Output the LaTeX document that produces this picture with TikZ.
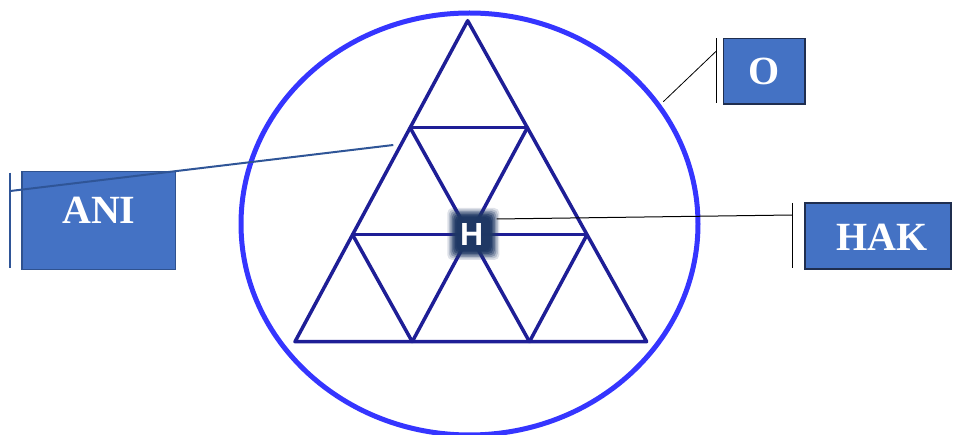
\documentclass[tikz,border=0pt]{standalone}
\usepackage{fontspec}
\usetikzlibrary{calc}
\setmainfont{Liberation Serif}
\newfontfamily\hfont{Liberation Sans}
\definecolor{ringcol}{HTML}{3535FF}
\definecolor{gridcol}{HTML}{1E1E96}
\definecolor{boxfill}{HTML}{4472C4}
\definecolor{boxline}{HTML}{2F528F}
\definecolor{boxdark}{HTML}{1F2E4F}
\definecolor{hcol}{HTML}{1F3864}
\definecolor{anicol}{HTML}{2F5597}
\tikzset{
  labelbox/.style={draw=#1, line width=1.5pt, fill=boxfill, inner sep=0pt},
  boxtext/.style={text=white, font=\fontsize{40}{40}\selectfont\bfseries},
  gridline/.style={draw=gridcol, line width=3.5pt, line join=round, line cap=round},
  thinlink/.style={draw=black, line width=0.8pt},
  barline/.style={draw=black, line width=1pt},
}
\begin{document}
\begin{tikzpicture}[x=1pt,y=-1pt]
\useasboundingbox (0,0) rectangle (954,435);
% ring
\draw[ringcol, line width=5pt] (469.5,224) ellipse [x radius=228.5, y radius=211];
% triangle grid
\coordinate (T) at (467.7,20.7);
\coordinate (BL) at (295,341.7);
\coordinate (BR) at (646.7,341.7);
\coordinate (L1) at ($(T)!1/3!(BL)$);
\coordinate (L2) at ($(T)!2/3!(BL)$);
\coordinate (R1) at ($(T)!1/3!(BR)$);
\coordinate (R2) at ($(T)!2/3!(BR)$);
\coordinate (B1) at ($(BL)!1/3!(BR)$);
\coordinate (B2) at ($(BL)!2/3!(BR)$);
\draw[gridline] (T) -- (BL) -- (BR) -- cycle;
\draw[gridline] (L1) -- (R1);
\draw[gridline] (L2) -- (R2);
\draw[gridline] (R1) -- (B1);
\draw[gridline] (R2) -- (B2);
\draw[gridline] (L1) -- (B2);
\draw[gridline] (L2) -- (B1);
% H marker (blurred square)
\foreach \s/\o in {26/0.15,24.5/0.2,23/0.3,21.5/0.4,20/0.55,18.5/0.75,17/0.95} {
  \fill[hcol, opacity=\o, rounded corners=5pt] (473.3-\s,234-\s) rectangle (473.3+\s,234+\s);
}
\node[text=white, font=\hfont\fontsize{32}{32}\selectfont\bfseries, inner sep=0pt] (H) at (471.7,234) {H};
% boxes
\node[labelbox=boxline, minimum width=153.7pt, minimum height=97.6pt,
      label={[boxtext, yshift=10.5pt]center:ANI}] (ani) at (98.8,220.5) {};
\node[labelbox=boxdark, minimum width=81.7pt, minimum height=65.7pt, boxtext] (O) at (764.2,71.2) {O};
\node[labelbox=boxdark, minimum width=146pt, minimum height=66pt] (hak) at (878,236) {};
\node[boxtext] at (881.7,237) {HAK};
% bars
\coordinate (aniBarTop) at (10.3,172.7);
\coordinate (aniBarBot) at (10.3,268);
\draw[anicol, line width=2pt] (aniBarTop) -- (aniBarBot);
\coordinate (oBarTop) at (716.7,38.3);
\coordinate (oBarBot) at (716.7,103.5);
\draw[barline] (oBarTop) -- (oBarBot);
\coordinate (hakBarTop) at (792.3,203);
\coordinate (hakBarBot) at (792.3,268);
\draw[barline] (hakBarTop) -- (hakBarBot);
% connectors
\coordinate (aniStart) at (10.3,191);
\coordinate (aniEnd) at (393.3,145);
\draw[anicol, line width=2pt] (aniStart) -- (aniEnd);
\coordinate (oStart) at (716.7,50.7);
\coordinate (oEnd) at (663.3,101.7);
\draw[thinlink] (oStart) -- (oEnd);
\coordinate (hakStart) at (792.3,215);
\coordinate (hStart) at (496.7,219);
\draw[thinlink, line width=1pt] (hStart) -- (hakStart);
\end{tikzpicture}
\end{document}
